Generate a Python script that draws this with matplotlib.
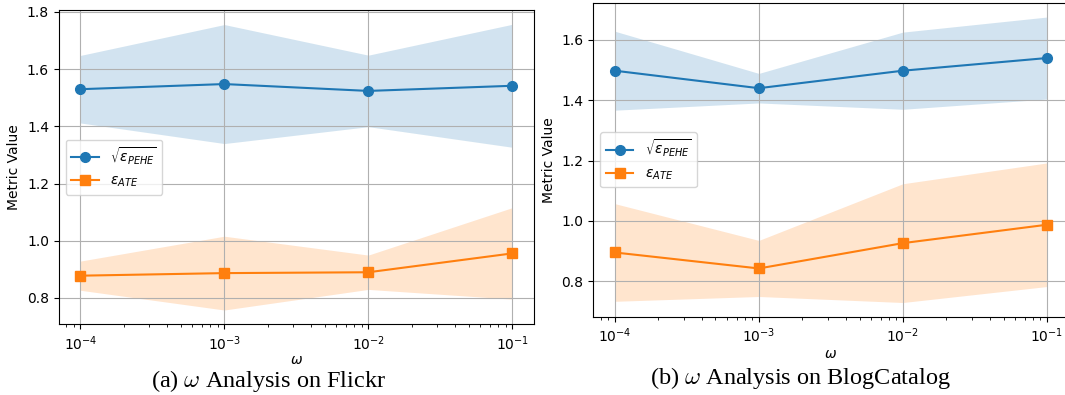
import matplotlib
matplotlib.use('Agg')
import matplotlib.pyplot as plt
import numpy as np

# omega values swept in both experiments
omega = [1e-4, 1e-3, 1e-2, 1e-1]

# Flickr: mean and std over runs
flickr_pehe_mean = [1.530, 1.548, 1.524, 1.542]
flickr_pehe_std = [0.118, 0.208, 0.125, 0.215]
flickr_ate_mean = [0.878, 0.887, 0.890, 0.956]
flickr_ate_std = [0.051, 0.129, 0.060, 0.160]

# BlogCatalog: mean and std over runs
blog_pehe_mean = [1.498, 1.440, 1.498, 1.540]
blog_pehe_std = [0.131, 0.049, 0.128, 0.136]
blog_ate_mean = [0.895, 0.842, 0.926, 0.987]
blog_ate_std = [0.162, 0.093, 0.197, 0.205]

captions = [r'(a) $\omega$ Analysis on Flickr', r'(b) $\omega$ Analysis on BlogCatalog']


def plot_omega(ax, pehe_mean, pehe_std, ate_mean, ate_std, xpad):
    pm, ps = np.array(pehe_mean), np.array(pehe_std)
    am, as_ = np.array(ate_mean), np.array(ate_std)
    ax.plot(omega, pm, marker='o', markersize=7, color='tab:blue',
            label=r'$\sqrt{\varepsilon_{PEHE}}$')
    ax.fill_between(omega, pm - ps, pm + ps, color='tab:blue', alpha=0.2, linewidth=0)
    ax.plot(omega, am, marker='s', markersize=7, color='tab:orange',
            label=r'$\varepsilon_{ATE}$')
    ax.fill_between(omega, am - as_, am + as_, color='tab:orange', alpha=0.2, linewidth=0)
    ax.set_xscale('log')
    ax.set_xlabel(r'$\omega$', labelpad=xpad)
    ax.set_ylabel('Metric Value')
    ax.grid(True)
    ax.legend(loc='center left')


fig = plt.figure(figsize=(10.65, 3.95), dpi=100)
ax1 = fig.add_axes([0.0551, 0.179, 0.4463, 0.7957])
ax2 = fig.add_axes([0.557, 0.198, 0.4463, 0.795])

plot_omega(ax1, flickr_pehe_mean, flickr_pehe_std, flickr_ate_mean, flickr_ate_std, 0)
plot_omega(ax2, blog_pehe_mean, blog_pehe_std, blog_ate_mean, blog_ate_std, 1)

fig.text(0.252, 0.036, captions[0], ha='center', va='center', fontsize=17.5,
         family='Liberation Serif', math_fontfamily='cm')
fig.text(0.752, 0.044, captions[1], ha='center', va='center', fontsize=17.5,
         family='Liberation Serif', math_fontfamily='cm')

fig.savefig('out.png', dpi=100)
plt.close(fig)
